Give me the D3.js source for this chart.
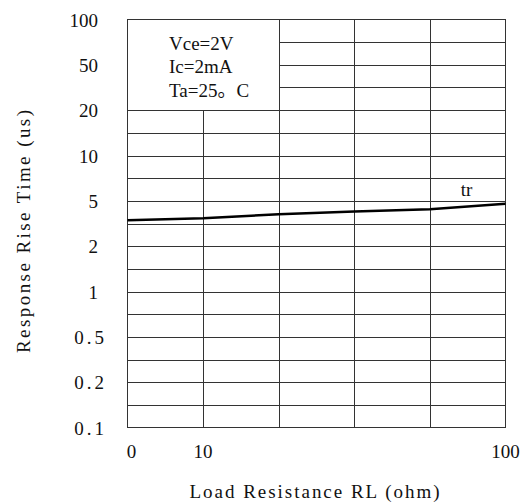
<!DOCTYPE html>
<html>
<head>
<meta charset="utf-8">
<script src="https://cdn.jsdelivr.net/npm/d3@7.9.0/dist/d3.min.js"></script>
<style>
  body { margin: 0; background: #fff; }
  svg text { font-family: "Liberation Serif", "Noto Sans CJK SC", serif; fill: #111; }
</style>
</head>
<body>
<svg width="522" height="504"></svg>
<script>
// y tick labels, bottom to top (equally spaced on the sheet)
const yTicks = [0.1, 0.2, 0.5, 1, 2, 5, 10, 20, 50, 100];
const xTicks = [0, 10, 100];
// tr curve
const loadRL = [0, 10, 32.5, 55, 77.5, 100];
const riseTime = [3.72, 3.85, 4.11, 4.29, 4.45, 4.81];
const conditions = ['Vce=2V', 'Ic=2mA', 'Ta=25。C'];

const plotL = 127.5, plotR = 505.5, plotT = 19.5, plotB = 427.5;
const svg = d3.select('svg');

// grid: 5 columns, 18 rows
let colScale = d3.scaleLinear().domain([0, 5]).range([plotL, plotR]);
let rowScale = d3.scaleLinear().domain([0, 18]).range([plotB, plotT]);

let x = d3.scaleLinear().domain(xTicks).range([plotL, colScale(1), plotR]);
let y = d3.scaleLinear().domain(yTicks).range(yTicks.map((d, i) => rowScale(i * 2)));

const grid = svg.append('g').attr('stroke', '#333').attr('stroke-width', 1);
d3.range(1, 18).forEach((r) => {
  grid.append('line')
    .attr('x1', plotL).attr('x2', plotR)
    .attr('y1', Math.round(rowScale(r)) + 0.5).attr('y2', Math.round(rowScale(r)) + 0.5);
});
d3.range(1, 5).forEach((c) => {
  grid.append('line')
    .attr('x1', Math.round(colScale(c)) + 0.5).attr('x2', Math.round(colScale(c)) + 0.5)
    .attr('y1', plotT).attr('y2', plotB);
});

// condition box covers the grid
svg.append('rect')
  .attr('x', plotL).attr('y', plotT)
  .attr('width', Math.round(colScale(2)) + 0.5 - plotL)
  .attr('height', Math.round(rowScale(14)) + 0.5 - plotT)
  .attr('fill', '#fff').attr('stroke', '#333');

svg.append('rect')
  .attr('x', plotL).attr('y', plotT)
  .attr('width', plotR - plotL).attr('height', plotB - plotT)
  .attr('fill', 'none').attr('stroke', '#333');

conditions.forEach((t, i) => {
  svg.append('text')
    .attr('x', 169).attr('y', [50, 73, 97][i])
    .attr('font-size', 19)
    .text(t);
});

// curve
let line = d3.line()
  .x((d, i) => x(loadRL[i]))
  .y((d) => y(d));
svg.append('path')
  .attr('d', line(riseTime))
  .attr('fill', 'none')
  .attr('stroke', '#000')
  .attr('stroke-width', 2.5);

svg.append('text')
  .attr('x', x(100) - 39).attr('y', y(riseTime[5]) - 8)
  .attr('text-anchor', 'middle')
  .attr('font-size', 19)
  .text('tr');

// y labels
yTicks.forEach((d) => {
  let dec = String(d).includes('.');
  svg.append('text')
    .attr('x', dec ? 107 : 98)
    .attr('y', y(d) + 7)
    .attr('text-anchor', 'end')
    .attr('font-size', 19)
    .attr('letter-spacing', dec ? 3 : 0)
    .text(d);
});

// x labels
xTicks.forEach((d) => {
  svg.append('text')
    .attr('x', x(d) + (d === 0 ? 4 : 0))
    .attr('y', 458)
    .attr('text-anchor', 'middle')
    .attr('font-size', 19)
    .text(d);
});

svg.append('text')
  .attr('x', (plotL + plotR) / 2 - 2).attr('y', 498)
  .attr('text-anchor', 'middle')
  .attr('font-size', 19)
  .attr('textLength', 250)
  .attr('lengthAdjust', 'spacing')
  .text('Load Resistance RL (ohm)');

svg.append('text')
  .attr('transform', 'translate(30,231.5) rotate(-90)')
  .attr('text-anchor', 'middle')
  .attr('font-size', 19)
  .attr('textLength', 243)
  .attr('lengthAdjust', 'spacing')
  .text('Response Rise Time (us)');
</script>
</body>
</html>
